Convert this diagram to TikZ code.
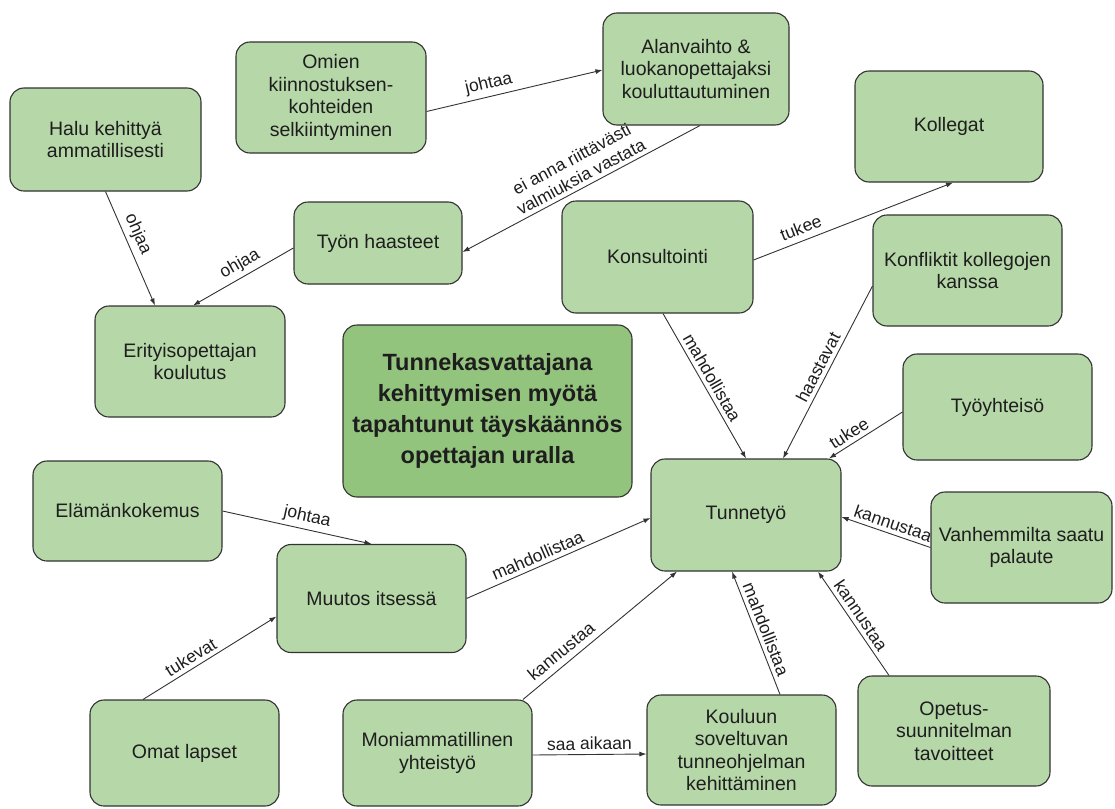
\documentclass[tikz,border=0pt]{standalone}
\usepackage{fontspec}
\setmainfont{Liberation Sans}
\usetikzlibrary{arrows.meta,calc}
\definecolor{boxfill}{HTML}{B6D7A8}
\definecolor{hubfill}{HTML}{93C47D}
\definecolor{ink}{HTML}{1E1E1E}
\definecolor{edgeline}{HTML}{333333}
\begin{document}
\begin{tikzpicture}[x=1pt,y=-1pt,
  concept/.style={draw=edgeline, line width=1.1pt, fill=boxfill, rounded corners=14pt,
    align=center, text=ink, font=\fontsize{19.5}{22.5}\selectfont, inner sep=3pt},
  dims/.style 2 args={minimum width=#1pt, minimum height=#2pt},
  hub/.style={concept, fill=hubfill, font=\bfseries\fontsize{23.5}{31}\selectfont},
  link/.style={draw=edgeline, line width=0.9pt, -{Latex[length=7pt,width=5pt]}},
  lbl/.style={sloped, above, font=\fontsize{17.5}{20}\selectfont, text=ink, inner sep=4pt, align=center}
]
\fill[white] (0,0) rectangle (1115,808);
\useasboundingbox (0,0) rectangle (1115,808);

% concepts
\node[concept, dims={190}{111}] (omien) at (331,97.5) {Omien\\kiinnostuksen-\\kohteiden\\selkiintyminen};
\node[concept, dims={186}{112}] (alan) at (696,69) {Alanvaihto \&\\luokanopettajaksi\\kouluttautuminen};
\node[concept, dims={191}{103}] (halu) at (105.5,139.5) {Halu kehittyä\\ammatillisesti};
\node[concept, dims={188}{111}] (koll) at (949,126.5) {Kollegat};
\node[concept, dims={168}{82}] (tyon) at (378,243) {Työn haasteet};
\node[concept, dims={191}{112}] (kons) at (657.5,257) {Konsultointi};
\node[concept, dims={189}{111}] (konf) at (967.5,270.5) {Konfliktit kollegojen\\kanssa};
\node[concept, dims={190}{111}] (erit) at (190,361.5) {Erityisopettajan\\koulutus};
\node[hub, dims={289}{172}] (hub) at (487.5,411) {Tunnekasvattajana\\kehittymisen myötä\\tapahtunut täyskäännös\\opettajan uralla};
\node[concept, dims={189}{106}] (tyoy) at (997.5,407) {Työyhteisö};
\node[concept, dims={189}{100}] (elam) at (127.5,511) {Elämänkokemus};
\node[concept, dims={190}{112}] (tunne) at (746,515) {Tunnetyö};
\node[concept, dims={181}{111}] (vanh) at (1021.5,547.5) {Vanhemmilta saatu\\palaute};
\node[concept, dims={189}{108}] (muut) at (371.5,598.5) {Muutos itsessä};
\node[concept, dims={189}{106}] (omat) at (184.5,753) {Omat lapset};
\node[concept, dims={189}{106}] (moni) at (437.5,753) {Moniammatillinen\\yhteistyö};
\node[concept, dims={189}{110}] (koul) at (741.5,750) {Kouluun\\soveltuvan\\tunneohjelman\\kehittäminen};
\node[concept, dims={192}{110}] (opet) at (954,731) {Opetus-\\suunnitelman\\tavoitteet};

% relations
\draw[link] ($(omien.east)+(0,14)$) -- node[lbl, pos=0.37] {johtaa} ($(alan.west)+(0,1)$);
\draw[link] ($(alan.south)+(4,0)$) -- node[lbl, pos=0.48] {ei anna riittävästi\\valmiuksia vastata} ($(tyon.east)+(0,9)$);
\draw[link] (halu.south) -- node[lbl, pos=0.42] {ohjaa} ($(erit.north)+(-35,0)$);
\draw[link] ($(tyon.west)+(0,5)$) -- node[lbl, pos=0.47] {ohjaa} ($(erit.north)+(3,0)$);
\draw[link] ($(kons.east)+(0,3)$) -- node[lbl, pos=0.26, inner sep=6pt] {tukee} ($(koll.south)+(4,0)$);
\draw[link] ($(kons.south)+(5.5,0)$) -- node[lbl, pos=0.48] {mahdollistaa} ($(tunne.north)+(0,0)$);
\draw[link] ($(konf.west)+(0,15.5)$) -- node[lbl, pos=0.5] {haastavat} ($(tunne.north)+(37,0)$);
\draw[link] ($(tyoy.west)+(0,5)$) -- node[lbl, pos=0.65] {tukee} ($(tunne.north)+(83,0)$);
\draw[link] (vanh.west) -- node[lbl, pos=0.46] {kannustaa} ($(tunne.east)+(0,2)$);
\draw[link] (elam.east) -- node[lbl, pos=0.55] {johtaa} (muut.north);
\draw[link] (muut.east) -- node[lbl, pos=0.41] {mahdollistaa} ($(tunne.west)+(0,3)$);
\draw[link] ($(omat.north)+(-41.5,0)$) -- node[lbl, pos=0.4] {tukevat} ($(muut.west)+(0,18)$);
\draw[link] ($(moni.north)+(85.5,0)$) -- node[lbl, pos=0.3, inner sep=6pt] {kannustaa} ($(tunne.south)+(-69,0)$);
\draw[link] ($(moni.east)+(0,2)$) -- node[lbl, pos=0.5] {saa aikaan} ($(koul.west)+(0,4)$);
\draw[link] ($(koul.north)+(38.5,0)$) -- node[lbl, pos=0.5] {mahdollistaa} ($(tunne.south)+(-14,0)$);
\draw[link] ($(opet.north)+(-65,0)$) -- node[lbl, pos=0.52] {kannustaa} ($(tunne.south)+(72,0)$);
\end{tikzpicture}
\end{document}
